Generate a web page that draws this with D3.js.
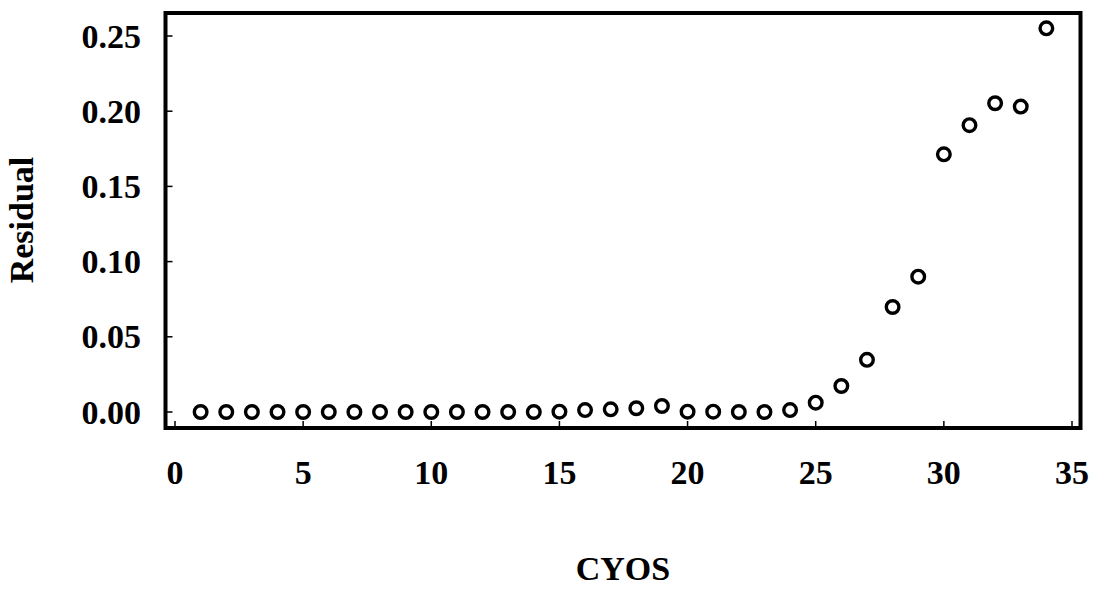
<!DOCTYPE html>
<html>
<head>
<meta charset="utf-8">
<script src="https://cdn.jsdelivr.net/npm/d3@7"></script>
<style>
  html, body { margin: 0; padding: 0; background: #fff; }
  svg { display: block; }
  text { font-family: "Liberation Serif", "Times New Roman", serif; font-weight: bold; fill: #000; }
</style>
</head>
<body>
<svg id="chart" width="1093" height="589"></svg>
<script>
const cyos = [1,2,3,4,5,6,7,8,9,10,11,12,13,14,15,16,17,18,19,20,21,22,23,24,25,26,27,28,29,30,31,32,33,34];
const residual = [0,0,0,0,0,0,0,0,0,0,0,0,0,0,0.0002,0.0013,0.0018,0.0025,0.004,0.0002,0.0002,0,0,0.0013,0.0062,0.0173,0.0347,0.0698,0.09,0.1713,0.1907,0.2053,0.2031,0.2551];
const xTicks = [0,5,10,15,20,25,30,35];
const yTicks = [0,0.05,0.10,0.15,0.20,0.25];
const xTitle = "CYOS";
const yTitle = "Residual";

const svg = d3.select("#chart");
const box = {left: 165.5, right: 1080.5, top: 13, bottom: 428};

const x = d3.scaleLinear().domain([0, 35]).range([175, 1072]);
const y = d3.scaleLinear().domain([0, 0.25]).range([412, 36]);

// Frame
svg.append("rect")
  .attr("x", box.left).attr("y", box.top)
  .attr("width", box.right - box.left).attr("height", box.bottom - box.top)
  .attr("fill", "none").attr("stroke", "#000").attr("stroke-width", 4);

// X ticks (inward, from bottom)
svg.append("g").selectAll("line").data(xTicks).join("line")
  .attr("x1", d => x(d)).attr("x2", d => x(d))
  .attr("y1", box.bottom).attr("y2", box.bottom - 7)
  .attr("stroke", "#000").attr("stroke-width", 1.5);
svg.append("g").selectAll("text").data(xTicks).join("text")
  .attr("x", d => x(d)).attr("y", 484)
  .attr("text-anchor", "middle").attr("font-size", 34)
  .text(d => d);

// Y ticks (inward, from left)
svg.append("g").selectAll("line").data(yTicks).join("line")
  .attr("x1", box.left).attr("x2", box.left + 7)
  .attr("y1", d => y(d)).attr("y2", d => y(d))
  .attr("stroke", "#000").attr("stroke-width", 1.5);
svg.append("g").selectAll("text").data(yTicks).join("text")
  .attr("x", 141).attr("y", d => y(d) + 11.5)
  .attr("text-anchor", "end").attr("font-size", 34)
  .text(d => d3.format(".2f")(d));

// Points
svg.append("g").selectAll("circle").data(cyos).join("circle")
  .attr("cx", (d) => x(d))
  .attr("cy", (d, i) => y(residual[i]))
  .attr("r", 6.3)
  .attr("fill", "none").attr("stroke", "#000").attr("stroke-width", 3.4);

// Titles
svg.append("text")
  .attr("x", 623).attr("y", 580)
  .attr("text-anchor", "middle").attr("font-size", 34)
  .text(xTitle);
svg.append("text")
  .attr("transform", "translate(33,220) rotate(-90)")
  .attr("text-anchor", "middle").attr("font-size", 34)
  .text(yTitle);
</script>
</body>
</html>
